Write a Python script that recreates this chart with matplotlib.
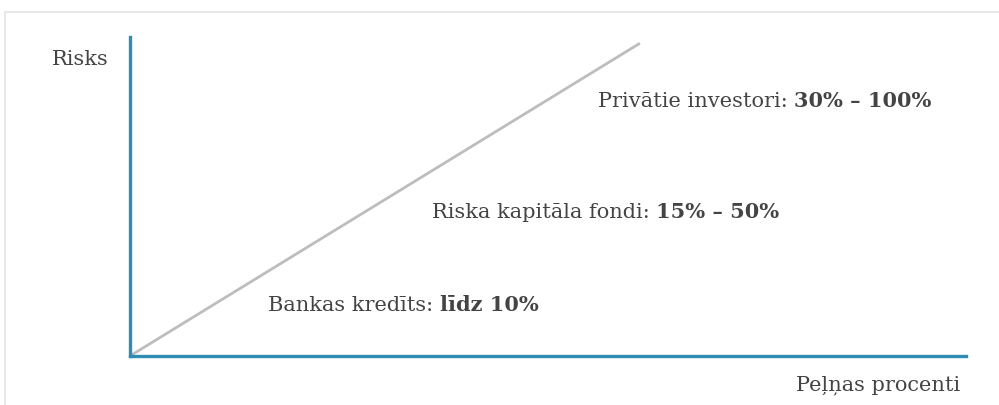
import matplotlib
matplotlib.use('Agg')
import matplotlib.pyplot as plt
from matplotlib.patches import Rectangle

# ── data ──────────────────────────────────────────────────────────────────────
risk_line_x = [0, 61]
risk_line_y = [0, 98]

label_plain = ['Privātie investori: ', 'Riska kapitāla fondi: ', 'Bankas kredīts: ']
label_bold  = ['30% – 100%', '15% – 50%', 'līdz 10%']
label_x     = [56.0, 36.1, 16.5]
label_y     = [79.6, 45.1, 15.7]

y_title = 'Risks'
x_title = 'Peļņas procenti'

AXIS_COLOR = '#2f8db3'
TEXT_COLOR = '#444444'
FONT = 'DejaVu Serif'
FS = 15

# ── figure ────────────────────────────────────────────────────────────────────
fig = plt.figure(figsize=(9.99, 4.05), dpi=100)
fig.patches.append(Rectangle((0.005, -0.2), 1.2, 1.2 - 12 / 405,
                             transform=fig.transFigure, fill=False,
                             edgecolor='#e4e4e4', linewidth=1.2))

ax = fig.add_axes([0.130, 0.121, 0.837, 0.788])
ax.set_xlim(0, 100)
ax.set_ylim(0, 100)
ax.plot(risk_line_x, risk_line_y, color='#bdbdbd', linewidth=2.0,
        solid_capstyle='butt')

for side in ('top', 'right'):
    ax.spines[side].set_visible(False)
for side in ('left', 'bottom'):
    ax.spines[side].set_color(AXIS_COLOR)
    ax.spines[side].set_linewidth(2.4)
ax.set_xticks([])
ax.set_yticks([])

for plain, bold, x, y in zip(label_plain, label_bold, label_x, label_y):
    t = ax.text(x, y, plain, fontsize=FS, family=FONT, color=TEXT_COLOR,
                ha='left', va='center')
    ax.annotate(bold, xy=(1, 0), xycoords=t, fontsize=FS, family=FONT,
                fontweight='bold', color=TEXT_COLOR, ha='left', va='bottom')

fig.text(0.052, 0.852, y_title, fontsize=FS, family=FONT, color=TEXT_COLOR,
         ha='left', va='center')
fig.text(0.961, 0.049, x_title, fontsize=FS, family=FONT, color=TEXT_COLOR,
         ha='right', va='center')

fig.savefig('out.png', dpi=100)
